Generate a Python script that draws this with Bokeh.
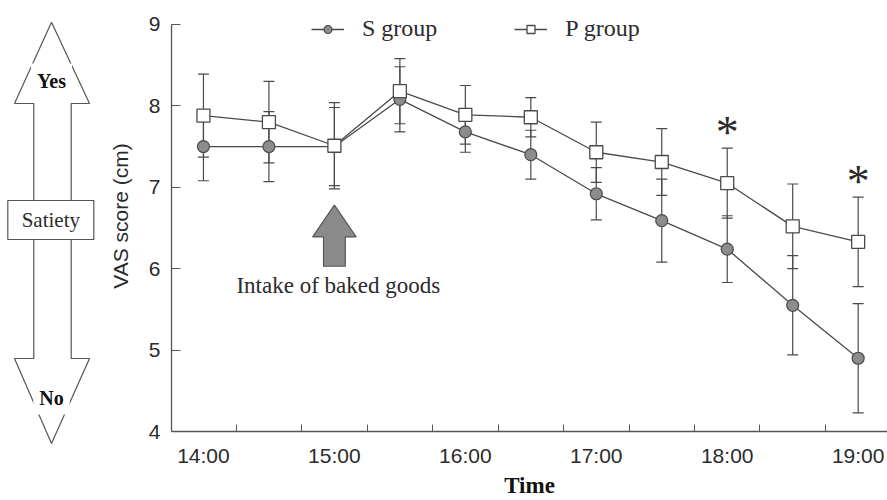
from bokeh.plotting import figure
from bokeh.models import (ColumnDataSource, Whisker, TeeHead, FixedTicker, Range1d,
                          Legend, LegendItem, Label)
from bokeh.layouts import row
from bokeh.embed import file_html
from bokeh.resources import INLINE
from bokeh.core.properties import value

# ---------------- data ----------------
times = [14.0, 14.5, 15.0, 15.5, 16.0, 16.5, 17.0, 17.5, 18.0, 18.5, 19.0]
s_mean = [7.50, 7.50, 7.50, 8.08, 7.68, 7.40, 6.92, 6.59, 6.24, 5.55, 4.90]
s_err = [0.42, 0.43, 0.48, 0.40, 0.25, 0.30, 0.32, 0.51, 0.41, 0.61, 0.67]
p_mean = [7.88, 7.80, 7.51, 8.18, 7.89, 7.86, 7.43, 7.31, 7.05, 6.52, 6.33]
p_err = [0.51, 0.50, 0.53, 0.40, 0.36, 0.24, 0.37, 0.41, 0.43, 0.52, 0.55]
sig_times = [18.0, 19.0]
xtick_times = [14, 15, 16, 17, 18, 19]
xtick_labels = ["14:00", "15:00", "16:00", "17:00", "18:00", "19:00"]
yticks = [4, 5, 6, 7, 8, 9]
intake_time = 15.0
intake_text = "Intake of baked goods"

DARK = "#4a4a4a"
TXT = "#2b2b2b"

src = ColumnDataSource(dict(
    t=times,
    s=s_mean, s_lo=[m - e for m, e in zip(s_mean, s_err)], s_hi=[m + e for m, e in zip(s_mean, s_err)],
    p=p_mean, p_lo=[m - e for m, e in zip(p_mean, p_err)], p_hi=[m + e for m, e in zip(p_mean, p_err)],
))

# ---------------- main plot ----------------
p = figure(width=792, height=500, x_range=Range1d(13.756, 19.224), y_range=Range1d(4, 9.294),
           output_backend="svg", toolbar_location=None,
           min_border_left=76, min_border_right=0, min_border_top=0, min_border_bottom=68)
p.grid.visible = False
p.outline_line_color = None
p.background_fill_color = "white"

minor = [t + 0.25 for t in times[:-1]]
p.xaxis.ticker = FixedTicker(ticks=xtick_times, minor_ticks=minor)
p.xaxis.major_label_overrides = {t: lab for t, lab in zip(xtick_times, xtick_labels)}
p.xaxis.major_tick_in = 0
p.xaxis.major_tick_out = 0
p.xaxis.minor_tick_in = 7
p.xaxis.minor_tick_out = 0
p.yaxis.ticker = FixedTicker(ticks=yticks, minor_ticks=[])
p.yaxis.bounds = (min(yticks), max(yticks))
p.yaxis.major_tick_in = 9
p.yaxis.major_tick_out = 0
p.yaxis.minor_tick_in = 0
p.yaxis.minor_tick_out = 0
for ax in (p.xaxis[0], p.yaxis[0]):
    ax.axis_line_color = "#555555"
    ax.major_tick_line_color = "#555555"
    ax.minor_tick_line_color = "#555555"
    ax.axis_line_width = 1.3
    ax.major_label_text_font = "Liberation Sans"
    ax.major_label_text_font_size = "21px"
    ax.major_label_text_color = TXT
p.xaxis.major_label_standoff = 12
p.yaxis.major_label_standoff = 11
p.yaxis.axis_label = "VAS score (cm)"
p.yaxis.axis_label_text_font = "Liberation Sans"
p.yaxis.axis_label_text_font_style = "normal"
p.yaxis.axis_label_text_font_size = "21px"
p.yaxis.axis_label_text_color = TXT
p.yaxis.axis_label_standoff = 14
p.xaxis.axis_label = "Time"
p.xaxis.axis_label_text_font = "Liberation Serif"
p.xaxis.axis_label_text_font_style = "bold"
p.xaxis.axis_label_text_font_size = "23px"
p.xaxis.axis_label_text_color = "#111111"
p.xaxis.axis_label_standoff = 3

for lo, hi in (("s_lo", "s_hi"), ("p_lo", "p_hi")):
    w = Whisker(base="t", lower=lo, upper=hi, source=src, line_color=DARK, line_width=1.2,
                upper_head=TeeHead(size=11, line_color=DARK, line_width=1.2),
                lower_head=TeeHead(size=11, line_color=DARK, line_width=1.2))
    p.add_layout(w)

s_line = p.line("t", "s", source=src, line_color=DARK, line_width=1.3)
p_line = p.line("t", "p", source=src, line_color=DARK, line_width=1.3)
s_pts = p.scatter("t", "s", source=src, marker="circle", size=12,
                  fill_color="#8c8c8c", line_color=DARK, line_width=1.2)
p_pts = p.scatter("t", "p", source=src, marker="square", size=13,
                  fill_color="white", line_color=DARK, line_width=1.3)

legend = Legend(items=[LegendItem(label="S group", renderers=[s_line, s_pts]),
                       LegendItem(label="P group", renderers=[p_line, p_pts])],
                orientation="horizontal", location=(140, 389),
                glyph_width=33, glyph_height=20, label_standoff=18, spacing=77,
                padding=0, margin=0, border_line_color=None, background_fill_alpha=0,
                label_text_font="Liberation Serif", label_text_font_size="24px",
                label_text_color=TXT)
p.add_layout(legend)

# significance asterisks above P-group upper error bars
sig_y = [p_mean[times.index(t)] + p_err[times.index(t)] for t in sig_times]
p.text(x=sig_times, y=sig_y, text=["*"] * len(sig_times), text_align="center",
       text_baseline="alphabetic", y_offset=-16, text_font=value("Liberation Serif"),
       text_font_size="46px", text_color=TXT)

# intake arrow
arrow_dx = [0.0, 0.166, 0.083, 0.083, -0.083, -0.083, -0.166]
arrow_y = [6.78, 6.39, 6.39, 6.03, 6.03, 6.39, 6.39]
p.patch([intake_time + d for d in arrow_dx], arrow_y, fill_color="#8a8a8a",
        line_color="#555555", line_width=1.2)
p.text(x=[intake_time + 0.03], y=[5.79], text=[intake_text], text_align="center",
       text_baseline="middle", text_font=value("Liberation Serif"),
       text_font_size="23px", text_color=TXT)

# ---------------- left satiety diagram ----------------
l = figure(width=95, height=500, x_range=Range1d(0, 95), y_range=Range1d(500, 0),
           output_backend="svg", toolbar_location=None, min_border=0,
           min_border_left=0, min_border_right=0, min_border_top=0, min_border_bottom=0)
for fig in (l, p):
    if "frame_align" in fig.properties():
        fig.frame_align = False
l.axis.visible = False
l.grid.visible = False
l.outline_line_color = None

ox = [51, 89, 70.7, 70.7, 89, 51, 14, 33.3, 33.3, 14]
oy = [21.7, 103, 103, 358, 358, 443, 358, 358, 103, 103]
l.patch(ox, oy, fill_color="white", line_color="#555555", line_width=1.2)
l.quad(left=7.3, right=93.3, top=200, bottom=239, fill_color="white",
       line_color="#555555", line_width=1.2)
l.text(x=[50.3], y=[219.5], text=["Satiety"], text_align="center", text_baseline="middle",
       text_font=value("Liberation Serif"), text_font_size="21px", text_color=TXT)
for txt, yy in (("Yes", 80), ("No", 397)):
    l.add_layout(Label(x=51, y=yy, text=txt, text_align="center", text_baseline="middle",
                       text_font="Liberation Serif", text_font_style="bold",
                       text_font_size="20px", text_color="#111111",
                       background_fill_color="white", padding=6))

layout = row(l, p)
open("out.html", "w").write(file_html(layout, INLINE))
